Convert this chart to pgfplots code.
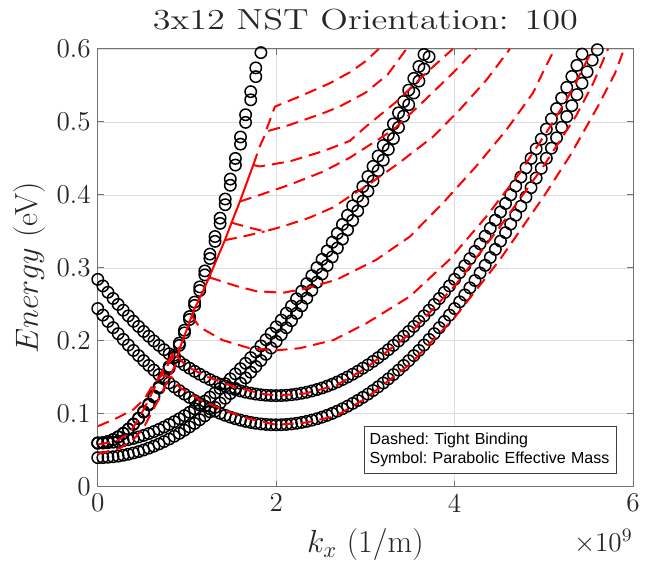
\RequirePackage{fix-cm}
\documentclass[border=0pt]{standalone}
\usepackage{fontspec}
\newfontfamily\helv{Liberation Sans}
\usepackage{pgfplots}
\usepackage{pgfplotstable}
\pgfplotsset{compat=1.18}

% parabolic effective mass points (circles)
\pgfplotstableread{
k s1 s2 m1 m2 v1 v2
0 0.06 0.06 0.04 0.06 0.2443 0.2843
0.0571 0.0605 0.0605 0.0401 0.0601 0.2353 0.2753
0.1143 0.0621 0.0621 0.0405 0.0605 0.2266 0.2666
0.1714 0.0647 0.0648 0.0412 0.0612 0.2181 0.2581
0.2286 0.0684 0.0686 0.0421 0.0621 0.2099 0.2499
0.2857 0.0731 0.0734 0.0433 0.0633 0.2020 0.2420
0.3429 0.0788 0.0793 0.0447 0.0647 0.1943 0.2343
0.4000 0.0856 0.0862 0.0464 0.0664 0.1869 0.2269
0.4571 0.0934 0.0942 0.0483 0.0683 0.1798 0.2198
0.5143 0.1023 0.1033 0.0505 0.0705 0.1729 0.2129
0.5714 0.1123 0.1135 0.0530 0.0730 0.1663 0.2063
0.6286 0.1232 0.1247 0.0557 0.0757 0.1599 0.1999
0.6857 0.1352 0.1370 0.0587 0.0787 0.1538 0.1938
0.7429 0.1483 0.1504 0.0620 0.0820 0.1479 0.1879
0.8000 0.1624 0.1649 0.0655 0.0855 0.1423 0.1823
0.8571 0.1776 0.1804 0.0693 0.0893 0.1370 0.1770
0.9143 0.1938 0.1970 0.0733 0.0933 0.1319 0.1719
0.9714 0.2110 0.2146 0.0776 0.0976 0.1271 0.1671
1.0286 0.2293 0.2333 0.0821 0.1021 0.1226 0.1626
1.0857 0.2486 0.2531 0.0869 0.1069 0.1183 0.1583
1.1429 0.2690 0.2740 0.0920 0.1120 0.1143 0.1543
1.2000 0.2904 0.2959 0.0973 0.1173 0.1105 0.1505
1.2571 0.3129 0.3189 0.1029 0.1229 0.1070 0.1470
1.3143 0.3364 0.3430 0.1088 0.1288 0.1037 0.1437
1.3714 0.3610 0.3682 0.1149 0.1349 0.1007 0.1407
1.4286 0.3866 0.3944 0.1213 0.1413 0.0980 0.1380
1.4857 0.4132 0.4217 0.1279 0.1479 0.0955 0.1355
1.5429 0.4409 0.4500 0.1348 0.1548 0.0933 0.1333
1.6000 0.4696 0.4794 0.1419 0.1619 0.0914 0.1314
1.6571 0.4994 0.5099 0.1493 0.1693 0.0897 0.1297
1.7143 0.5303 0.5415 0.1570 0.1770 0.0883 0.1283
1.7714 0.5621 0.5741 0.1649 0.1849 0.0871 0.1271
1.8286 0.5950 nan 0.1731 0.1931 0.0862 0.1262
1.8857 nan nan 0.1816 0.2016 0.0855 0.1255
1.9429 nan nan 0.1903 0.2103 0.0851 0.1251
2.0000 nan nan 0.1993 0.2193 0.0850 0.1250
2.0571 nan nan 0.2085 0.2285 0.0851 0.1251
2.1143 nan nan 0.2180 0.2380 0.0855 0.1255
2.1714 nan nan 0.2277 0.2477 0.0862 0.1262
2.2286 nan nan 0.2377 0.2577 0.0871 0.1271
2.2857 nan nan 0.2480 0.2680 0.0883 0.1283
2.3429 nan nan 0.2585 0.2785 0.0897 0.1297
2.4000 nan nan 0.2693 0.2893 0.0914 0.1314
2.4571 nan nan 0.2804 0.3004 0.0933 0.1333
2.5143 nan nan 0.2917 0.3117 0.0955 0.1355
2.5714 nan nan 0.3033 0.3233 0.0980 0.1380
2.6286 nan nan 0.3151 0.3351 0.1007 0.1407
2.6857 nan nan 0.3272 0.3472 0.1037 0.1437
2.7429 nan nan 0.3395 0.3595 0.1070 0.1470
2.8000 nan nan 0.3521 0.3721 0.1105 0.1505
2.8571 nan nan 0.3650 0.3850 0.1143 0.1543
2.9143 nan nan 0.3781 0.3981 0.1183 0.1583
2.9714 nan nan 0.3915 0.4115 0.1226 0.1626
3.0286 nan nan 0.4052 0.4252 0.1271 0.1671
3.0857 nan nan 0.4191 0.4391 0.1319 0.1719
3.1429 nan nan 0.4333 0.4533 0.1370 0.1770
3.2000 nan nan 0.4477 0.4677 0.1423 0.1823
3.2571 nan nan 0.4624 0.4824 0.1479 0.1879
3.3143 nan nan 0.4773 0.4973 0.1538 0.1938
3.3714 nan nan 0.4925 0.5125 0.1599 0.1999
3.4286 nan nan 0.5080 0.5280 0.1663 0.2063
3.4857 nan nan 0.5237 0.5437 0.1729 0.2129
3.5429 nan nan 0.5397 0.5597 0.1798 0.2198
3.6000 nan nan 0.5560 0.5760 0.1869 0.2269
3.6571 nan nan 0.5725 0.5925 0.1943 0.2343
3.7143 nan nan 0.5893 nan 0.2020 0.2420
3.7714 nan nan nan nan 0.2099 0.2499
3.8286 nan nan nan nan 0.2181 0.2581
3.8857 nan nan nan nan 0.2266 0.2666
3.9429 nan nan nan nan 0.2353 0.2753
4.0000 nan nan nan nan 0.2443 0.2843
4.0571 nan nan nan nan 0.2535 0.2935
4.1143 nan nan nan nan 0.2630 0.3030
4.1714 nan nan nan nan 0.2727 0.3127
4.2286 nan nan nan nan 0.2827 0.3227
4.2857 nan nan nan nan 0.2930 0.3330
4.3429 nan nan nan nan 0.3035 0.3435
4.4000 nan nan nan nan 0.3143 0.3543
4.4571 nan nan nan nan 0.3254 0.3654
4.5143 nan nan nan nan 0.3367 0.3767
4.5714 nan nan nan nan 0.3483 0.3883
4.6286 nan nan nan nan 0.3601 0.4001
4.6857 nan nan nan nan 0.3722 0.4122
4.7429 nan nan nan nan 0.3845 0.4245
4.8000 nan nan nan nan 0.3971 0.4371
4.8571 nan nan nan nan 0.4100 0.4500
4.9143 nan nan nan nan 0.4231 0.4631
4.9714 nan nan nan nan 0.4365 0.4765
5.0286 nan nan nan nan 0.4502 0.4902
5.0857 nan nan nan nan 0.4641 0.5041
5.1429 nan nan nan nan 0.4783 0.5183
5.2000 nan nan nan nan 0.4927 0.5327
5.2571 nan nan nan nan 0.5074 0.5474
5.3143 nan nan nan nan 0.5223 0.5623
5.3714 nan nan nan nan 0.5375 0.5775
5.4286 nan nan nan nan 0.5530 0.5930
5.4857 nan nan nan nan 0.5687 nan
5.5429 nan nan nan nan 0.5847 nan
5.6000 nan nan nan nan 0.5990 nan
}\emtab

\pgfplotsset{
  em/.style={only marks, mark=o, mark size=2.85pt, mark options={black, line width=0.75pt}},
  tb/.style={red, line width=1pt, dash pattern=on 6pt off 3.5pt, no marks},
}

\begin{document}
\begin{tikzpicture}
\begin{axis}[
  name=ax,
  scale only axis,
  width=267.7pt, height=219pt,
  xmin=0, xmax=6, ymin=0, ymax=0.6,
  xtick={0,2,4,6},
  ytick={0,0.1,0.2,0.3,0.4,0.5,0.6},
  yticklabel style={/pgf/number format/fixed},
  /pgf/number format/assume math mode=true,
  grid=major,
  grid style={black!13, line width=0.4pt},
  axis line style={black!55, line width=0.5pt},
  tick style={black!55, line width=0.5pt},
  tick align=inside, major tick length=3pt,
  tick label style={font=\fontsize{13.6}{16}\selectfont, text=black!85},
  label style={font=\fontsize{16}{19}\selectfont, text=black!85},
  title style={font=\fontsize{14.5}{17}\selectfont, text=black!85,
    at={(axis description cs:0.5,1.0388)}, anchor=center},
  title={\scalebox{1.25}[1]{3x12 NST Orientation: 100}},
  xlabel={$k_x$ (1/m)},
  ylabel={$Energy$ (eV)},
  xlabel style={at={(axis description cs:0.5,-0.1324)}, anchor=center},
  ylabel style={at={(axis description cs:-0.1266,0.5)}, anchor=center},
  clip mode=individual,
]
% effective mass bands
\addplot[em] table[x=k, y=s1] {\emtab};
\addplot[em] table[x=k, y=s2] {\emtab};
\addplot[em] table[x=k, y=m1] {\emtab};
\addplot[em] table[x=k, y=m2] {\emtab};
\addplot[em] table[x=k, y=v1] {\emtab};
\addplot[em] table[x=k, y=v2] {\emtab};

% tight binding bands
\addplot[tb] coordinates {(0,0.045)(0.25,0.053)(0.40,0.065)(0.51,0.080)(0.60,0.101)(0.70,0.124)(0.77,0.142)(0.87,0.167)(0.92,0.19)};
\addplot[tb] coordinates {(0,0.058)(0.2,0.062)(0.36,0.074)(0.47,0.096)(0.57,0.119)(0.66,0.142)(0.75,0.165)(0.84,0.182)(0.92,0.19)};
\addplot[tb] coordinates {(0,0.083)(0.21,0.094)(0.40,0.106)(0.52,0.12)(0.62,0.14)(0.716,0.153)(0.82,0.174)(0.92,0.192)};
\addplot[tb] coordinates {(0.716,0.153)(0.83,0.150)(0.92,0.136)(1.15,0.119)(1.41,0.1055)(1.67,0.094)(2.0,0.085)(2.33,0.088)(2.67,0.097)(3.0,0.121)(3.5,0.168)(4.0,0.232)(4.5,0.31)(5.0,0.398)(5.3,0.455)(5.6,0.52)(5.8,0.567)(5.9,0.6)};
\addplot[tb] coordinates {(0.88,0.18)(1.0,0.165)(1.22,0.151)(1.52,0.1375)(1.82,0.128)(2.0,0.125)(2.33,0.128)(2.67,0.139)(3.0,0.162)(3.5,0.21)(4.0,0.275)(4.5,0.355)(5.0,0.44)(5.36,0.508)(5.55,0.552)(5.66,0.583)(5.72,0.6)};
\addplot[tb] coordinates {(1.05,0.235)(1.14,0.219)(1.4,0.201)(1.7,0.19)(2.0,0.187)(2.265,0.19)(2.64,0.201)(3.01,0.224)(3.5,0.261)(3.94,0.311)(4.36,0.371)(4.73,0.43)(5.1,0.499)(5.3,0.54)(5.5,0.588)(5.55,0.6)};
\addplot[tb] coordinates {(1.25,0.287)(1.33,0.284)(1.556,0.275)(1.78,0.268)(2.08,0.266)(2.34,0.272)(2.68,0.284)(3.12,0.311)(3.5,0.343)(3.87,0.389)(4.24,0.439)(4.58,0.489)(4.88,0.54)(4.99,0.568)(5.12,0.6)};
\addplot[tb] coordinates {(1.5,0.362)(1.705,0.355)(1.873,0.35)(2.08,0.357)(2.377,0.369)(2.64,0.383)(2.825,0.398)(3.01,0.412)(3.38,0.444)(3.76,0.48)(4.06,0.517)(4.36,0.558)(4.62,0.6)};
\addplot[tb] coordinates {(1.425,0.338)(1.63,0.343)(1.87,0.35)};
\addplot[tb] coordinates {(1.593,0.391)(1.818,0.4)(2.153,0.414)(2.527,0.432)(2.825,0.451)(3.31,0.489)(3.65,0.528)(3.98,0.567)(4.24,0.6)};
\addplot[tb] coordinates {(1.743,0.441)(1.818,0.439)(2.153,0.446)(2.527,0.46)(2.825,0.474)(3.01,0.494)(3.35,0.528)(3.68,0.567)(3.98,0.6)};
\addplot[tb] coordinates {(1.743,0.441)(1.818,0.467)(1.892,0.487)(2.153,0.496)(2.527,0.512)(2.71,0.521)(3.0,0.54)(3.25,0.565)(3.46,0.6)};
\addplot[tb] coordinates {(1.892,0.49)(1.986,0.521)(2.265,0.535)(2.6,0.553)(2.825,0.568)(3.0,0.583)(3.15,0.6)};
\addplot[red, line width=1pt, no marks] coordinates {(0.92,0.19)(1.08,0.243)(1.18,0.268)(1.3,0.302)(1.425,0.338)(1.5,0.362)(1.593,0.391)(1.743,0.441)};

\node[draw=black!75, line width=0.5pt, fill=white, anchor=south east,
  text width=123.2pt, inner xsep=1.4pt, minimum height=23.1pt, align=left,
  font=\helv\fontsize{8}{9.2}\selectfont\frenchspacing]
  at (axis cs:5.823,0.0178) {\hspace*{1pt}Dashed: Tight Binding\\\hspace*{1pt}Symbol: Parabolic Effective Mass};
\end{axis}
\node[anchor=base east, inner sep=0pt, font=\fontsize{13.6}{16}\selectfont, text=black!85]
  at ([yshift=-32.5pt]ax.south east) {$\times10^{9}$};
\pgfresetboundingbox
\path[use as bounding box] ([shift={(-48.9pt,-37.5pt)}]ax.south west) rectangle ([shift={(11.5pt,24.5pt)}]ax.north east);
\end{tikzpicture}
\end{document}
